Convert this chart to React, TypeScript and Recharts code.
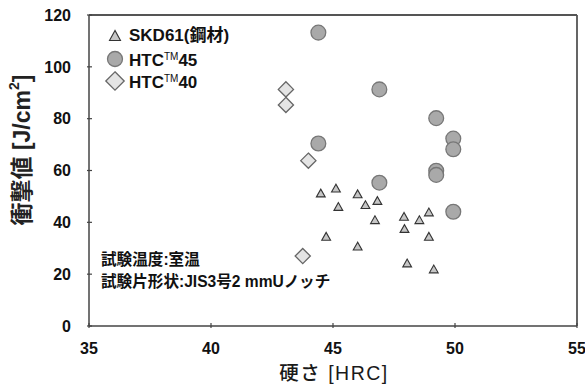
import React from 'react';
import { ScatterChart, Scatter, XAxis, YAxis, ReferenceLine, Legend } from 'recharts';

const xTicks = [35, 40, 45, 50, 55];
const yTicks = [0, 20, 40, 60, 80, 100, 120];

const skdHardness = [44.5, 45.12, 46.01, 45.22, 46.33, 46.82, 46.72, 47.91, 48.54, 48.93, 47.93, 48.93, 44.72, 46.01, 48.04, 49.13];
const skdImpact = [51.2, 53.1, 50.9, 46.0, 46.7, 48.3, 40.9, 42.2, 40.9, 43.9, 37.5, 34.5, 34.5, 30.7, 24.2, 21.9];

const htc45Hardness = [44.4, 44.4, 46.9, 46.9, 49.23, 49.23, 49.23, 49.93, 49.93, 49.93];
const htc45Impact = [113.2, 70.4, 91.3, 55.3, 80.2, 59.9, 58.3, 72.3, 68.2, 44.1];

const htc40Hardness = [43.07, 43.07, 43.99, 43.76];
const htc40Impact = [91.3, 85.3, 63.8, 27.0];

const legendNames = ['SKD61(鋼材)', 'HTC', 'HTC'];
const legendSuffix = ['', '45', '40'];

const toData = (xs: number[], ys: number[]) => xs.map((x, i) => ({ x, y: ys[i] }));
const skdData = toData(skdHardness, skdImpact);
const htc45Data = toData(htc45Hardness, htc45Impact);
const htc40Data = toData(htc40Hardness, htc40Impact);

const FONT = '"Liberation Sans", "Noto Sans CJK JP", sans-serif';
const AXIS = '#444';

const Triangle = (props: any) => {
  const { cx, cy } = props;
  const w = 4.4;
  return (
    <polygon
      points={`${cx},${cy - 4.2} ${cx - w},${cy + 3.6} ${cx + w},${cy + 3.6}`}
      fill="#c6c6c6"
      stroke="#333"
      strokeWidth={1.1}
    />
  );
};

const Circle = (props: any) => {
  const { cx, cy } = props;
  return <circle cx={cx} cy={cy} r={7.4} fill="#a9a9a9" stroke="#777" strokeWidth={1.3} />;
};

const Diamond = (props: any) => {
  const { cx, cy } = props;
  const h = 7.6;
  return (
    <polygon
      points={`${cx},${cy - h} ${cx + h},${cy} ${cx},${cy + h} ${cx - h},${cy}`}
      fill="#e4e4e4"
      stroke="#666"
      strokeWidth={1.3}
    />
  );
};

const XTick = (props: any) => {
  const { x, y, payload } = props;
  return (
    <g>
      <line x1={x} y1={y} x2={x} y2={y - 5} stroke={AXIS} strokeWidth={1.2} />
      <text x={x} y={y + 26} textAnchor="middle" fontFamily={FONT} fontWeight="bold" fontSize={16} fill="#111">
        {payload.value}
      </text>
    </g>
  );
};

const YTick = (props: any) => {
  const { x, y, payload } = props;
  return (
    <g>
      <line x1={x} y1={y} x2={x + 5} y2={y} stroke={AXIS} strokeWidth={1.2} />
      <text x={x - 16} y={y + 5.7} textAnchor="end" fontFamily={FONT} fontWeight="bold" fontSize={16} fill="#111">
        {payload.value}
      </text>
    </g>
  );
};

const LegendIcon = ({ i }: { i: number }) => (
  <svg width={22} height={22} style={{ display: 'block' }}>
    {i === 0 && <polygon points="11,5.5 5.5,15.5 16.5,15.5" fill="#c6c6c6" stroke="#333" strokeWidth={1.1} />}
    {i === 1 && <circle cx={11} cy={11} r={7.5} fill="#a9a9a9" stroke="#777" strokeWidth={1.3} />}
    {i === 2 && <polygon points="11,1.8 20.2,11 11,20.2 1.8,11" fill="#e4e4e4" stroke="#666" strokeWidth={1.3} />}
  </svg>
);

const LegendContent = () => (
  <div style={{ fontFamily: FONT, fontWeight: 'bold', fontSize: 17, color: '#111' }}>
    {legendNames.map((name, i) => (
      <div key={i} style={{ display: 'flex', alignItems: 'center', height: 22.6 }}>
        <LegendIcon i={i} />
        <span style={{ marginLeft: 3, whiteSpace: 'nowrap', lineHeight: '22px' }}>
          {name}
          {legendSuffix[i] && (
            <>
              <span style={{ fontSize: 10, fontWeight: 'normal', verticalAlign: 6 }}>TM</span>
              {legendSuffix[i]}
            </>
          )}
        </span>
      </div>
    ))}
  </div>
);

export default function App() {
  return (
    <div style={{ position: 'absolute', left: 0, top: 0, width: 585, height: 389, background: '#fff' }}>
      <ScatterChart width={585} height={389} margin={{ top: 15, right: 8, bottom: 0, left: 29 }}>
        <XAxis
          type="number"
          dataKey="x"
          domain={[35, 55]}
          ticks={xTicks}
          interval={0}
          height={63}
          tickSize={0}
          tickLine={false}
          tick={<XTick />}
          axisLine={{ stroke: AXIS, strokeWidth: 1.5 }}
          allowDataOverflow
        />
        <YAxis
          type="number"
          dataKey="y"
          domain={[0, 120]}
          ticks={yTicks}
          interval={0}
          width={60}
          tickSize={0}
          tickLine={false}
          tick={<YTick />}
          axisLine={{ stroke: AXIS, strokeWidth: 1.5 }}
          allowDataOverflow
        />
        <ReferenceLine y={120} stroke="#555" strokeWidth={1.8} />
        <ReferenceLine x={55} stroke="#555" strokeWidth={1.8} />
        <Legend
          layout="horizontal"
          verticalAlign="middle"
          align="center"
          content={<LegendContent />}
          wrapperStyle={{ position: 'absolute', left: 104, top: 25, width: 220 }}
        />
        <Scatter name="HTC40" data={htc40Data} shape={<Diamond />} isAnimationActive={false} legendType="none" />
        <Scatter name="HTC45" data={htc45Data} shape={<Circle />} isAnimationActive={false} legendType="none" />
        <Scatter name="SKD61" data={skdData} shape={<Triangle />} isAnimationActive={false} legendType="none" />
        <text
          x={22}
          y={150}
          transform="rotate(-90 22 150)"
          textAnchor="middle"
          dominantBaseline="central"
          fontFamily={FONT}
          fontWeight="bold"
          fontSize={23}
          fill="#222"
        >
          衝撃値 [J/cm<tspan fontSize={14} dy={-8}>2</tspan><tspan dy={8}>]</tspan>
        </text>
        <text
          x={334}
          y={380}
          textAnchor="middle"
          fontFamily={FONT}
          fontWeight={500}
          fontSize={19.5}
          letterSpacing={1.5}
          fill="#1a1a1a"
        >
          硬さ [HRC]
        </text>
      </ScatterChart>
      <div
        style={{
          position: 'absolute',
          left: 101,
          top: 249,
          fontFamily: FONT,
          fontWeight: 'bold',
          fontSize: 15.6,
          lineHeight: '22px',
          color: '#111',
          whiteSpace: 'nowrap',
        }}
      >
        <div>試験温度:室温</div>
        <div>試験片形状:JIS3号2 mmUノッチ</div>
      </div>
    </div>
  );
}
